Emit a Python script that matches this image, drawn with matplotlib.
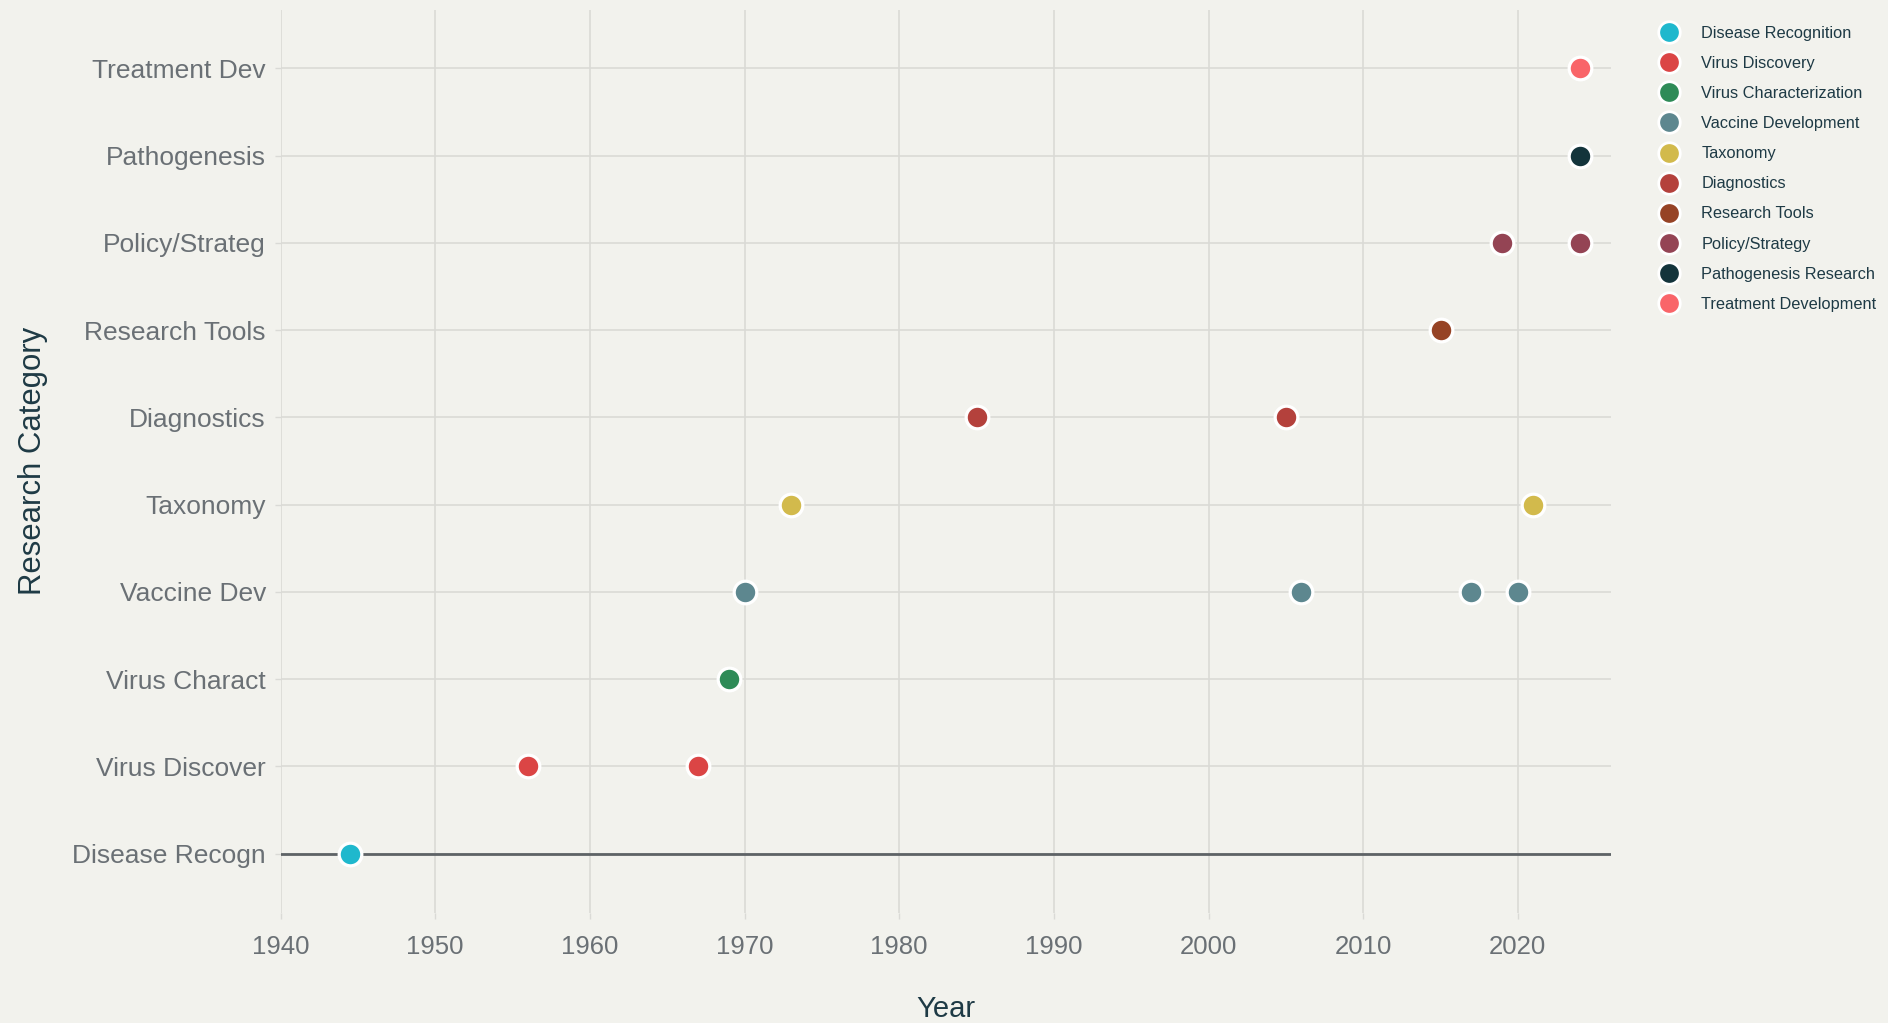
import matplotlib
matplotlib.use("Agg")
import matplotlib.pyplot as plt
from matplotlib.lines import Line2D

# Category axis (bottom to top), short tick labels and full legend names
categories = ["Disease Recogn", "Virus Discover", "Virus Charact", "Vaccine Dev",
              "Taxonomy", "Diagnostics", "Research Tools", "Policy/Strateg",
              "Pathogenesis", "Treatment Dev"]
legend_names = ["Disease Recognition", "Virus Discovery", "Virus Characterization",
                "Vaccine Development", "Taxonomy", "Diagnostics", "Research Tools",
                "Policy/Strategy", "Pathogenesis Research", "Treatment Development"]
colors = ["#1FB8CD", "#DB4545", "#2E8B57", "#5D878F", "#D2BA4C",
          "#B4413C", "#964325", "#944454", "#13343B", "#F96569"]

# Milestones: year and the category each one belongs to
event_years = [1944.5, 1956, 1967, 1969, 1970, 2006, 2017, 2020, 1973, 2021,
               1985, 2005, 2015, 2019, 2024, 2024, 2024]
event_categories = ["Disease Recogn", "Virus Discover", "Virus Discover", "Virus Charact",
                    "Vaccine Dev", "Vaccine Dev", "Vaccine Dev", "Vaccine Dev",
                    "Taxonomy", "Taxonomy", "Diagnostics", "Diagnostics",
                    "Research Tools", "Policy/Strateg", "Policy/Strateg",
                    "Pathogenesis", "Treatment Dev"]

x_ticks = [1940, 1950, 1960, 1970, 1980, 1990, 2000, 2010, 2020]

bg = "#F2F2ED"
grid_c = "#DADAD6"
tick_c = "#6A7075"
title_c = "#1E3A45"
font = ["Liberation Sans", "DejaVu Sans"]
plt.rcParams["font.family"] = font

fig = plt.figure(figsize=(18.88, 10.23), dpi=100, facecolor=bg)
ax = fig.add_axes([0.1486, 0.1075, 0.7045, 0.8827], facecolor=bg)

ax.set_xlim(1940, 2026)
ax.set_ylim(-0.68, len(categories) - 1 + 0.67)

for s in ax.spines.values():
    s.set_visible(False)

ax.set_xticks(x_ticks)
ax.set_yticks(range(len(categories)))
ax.set_yticklabels(categories)
ax.tick_params(axis="both", colors=grid_c, labelcolor=tick_c,
               length=4.5, width=1.0)
ax.tick_params(axis="x", labelsize=18.5, pad=11)
ax.tick_params(axis="y", labelsize=19, pad=6)
ax.grid(True, color=grid_c, linewidth=1.2)
ax.set_axisbelow(True)

# darker baseline at the first category
ax.axhline(0, color="#5E6366", linewidth=2.0, zorder=1.5)

for cat, name, col in zip(categories, legend_names, colors):
    xs = [y for y, c in zip(event_years, event_categories) if c == cat]
    ys = [categories.index(cat)] * len(xs)
    ax.scatter(xs, ys, s=16.3 ** 2, color=col, edgecolors="white",
               linewidths=2.3, zorder=3, label=name, clip_on=False)

ax.set_xlabel("Year", fontsize=21, color=title_c, va="center")
ax.xaxis.set_label_coords(0.5003, -0.1063)
ax.set_ylabel("Research Category", fontsize=22.4, color=title_c, va="center")
ax.yaxis.set_label_coords(-0.186, 0.5006)

handles = [Line2D([], [], linestyle="none", marker="o", markersize=15.5,
                  markerfacecolor=c, markeredgecolor="white", markeredgewidth=2.0)
           for c in colors]
leg = fig.legend(handles, legend_names, loc="upper left",
                 bbox_to_anchor=(1657 / 1888, 1 - 26 / 1023),
                 frameon=False, fontsize=11.8, labelcolor=title_c,
                 handlelength=1.5, handletextpad=1.2, labelspacing=0.92,
                 borderpad=0, borderaxespad=0)

fig.savefig("out.png", dpi=100, facecolor=bg)
